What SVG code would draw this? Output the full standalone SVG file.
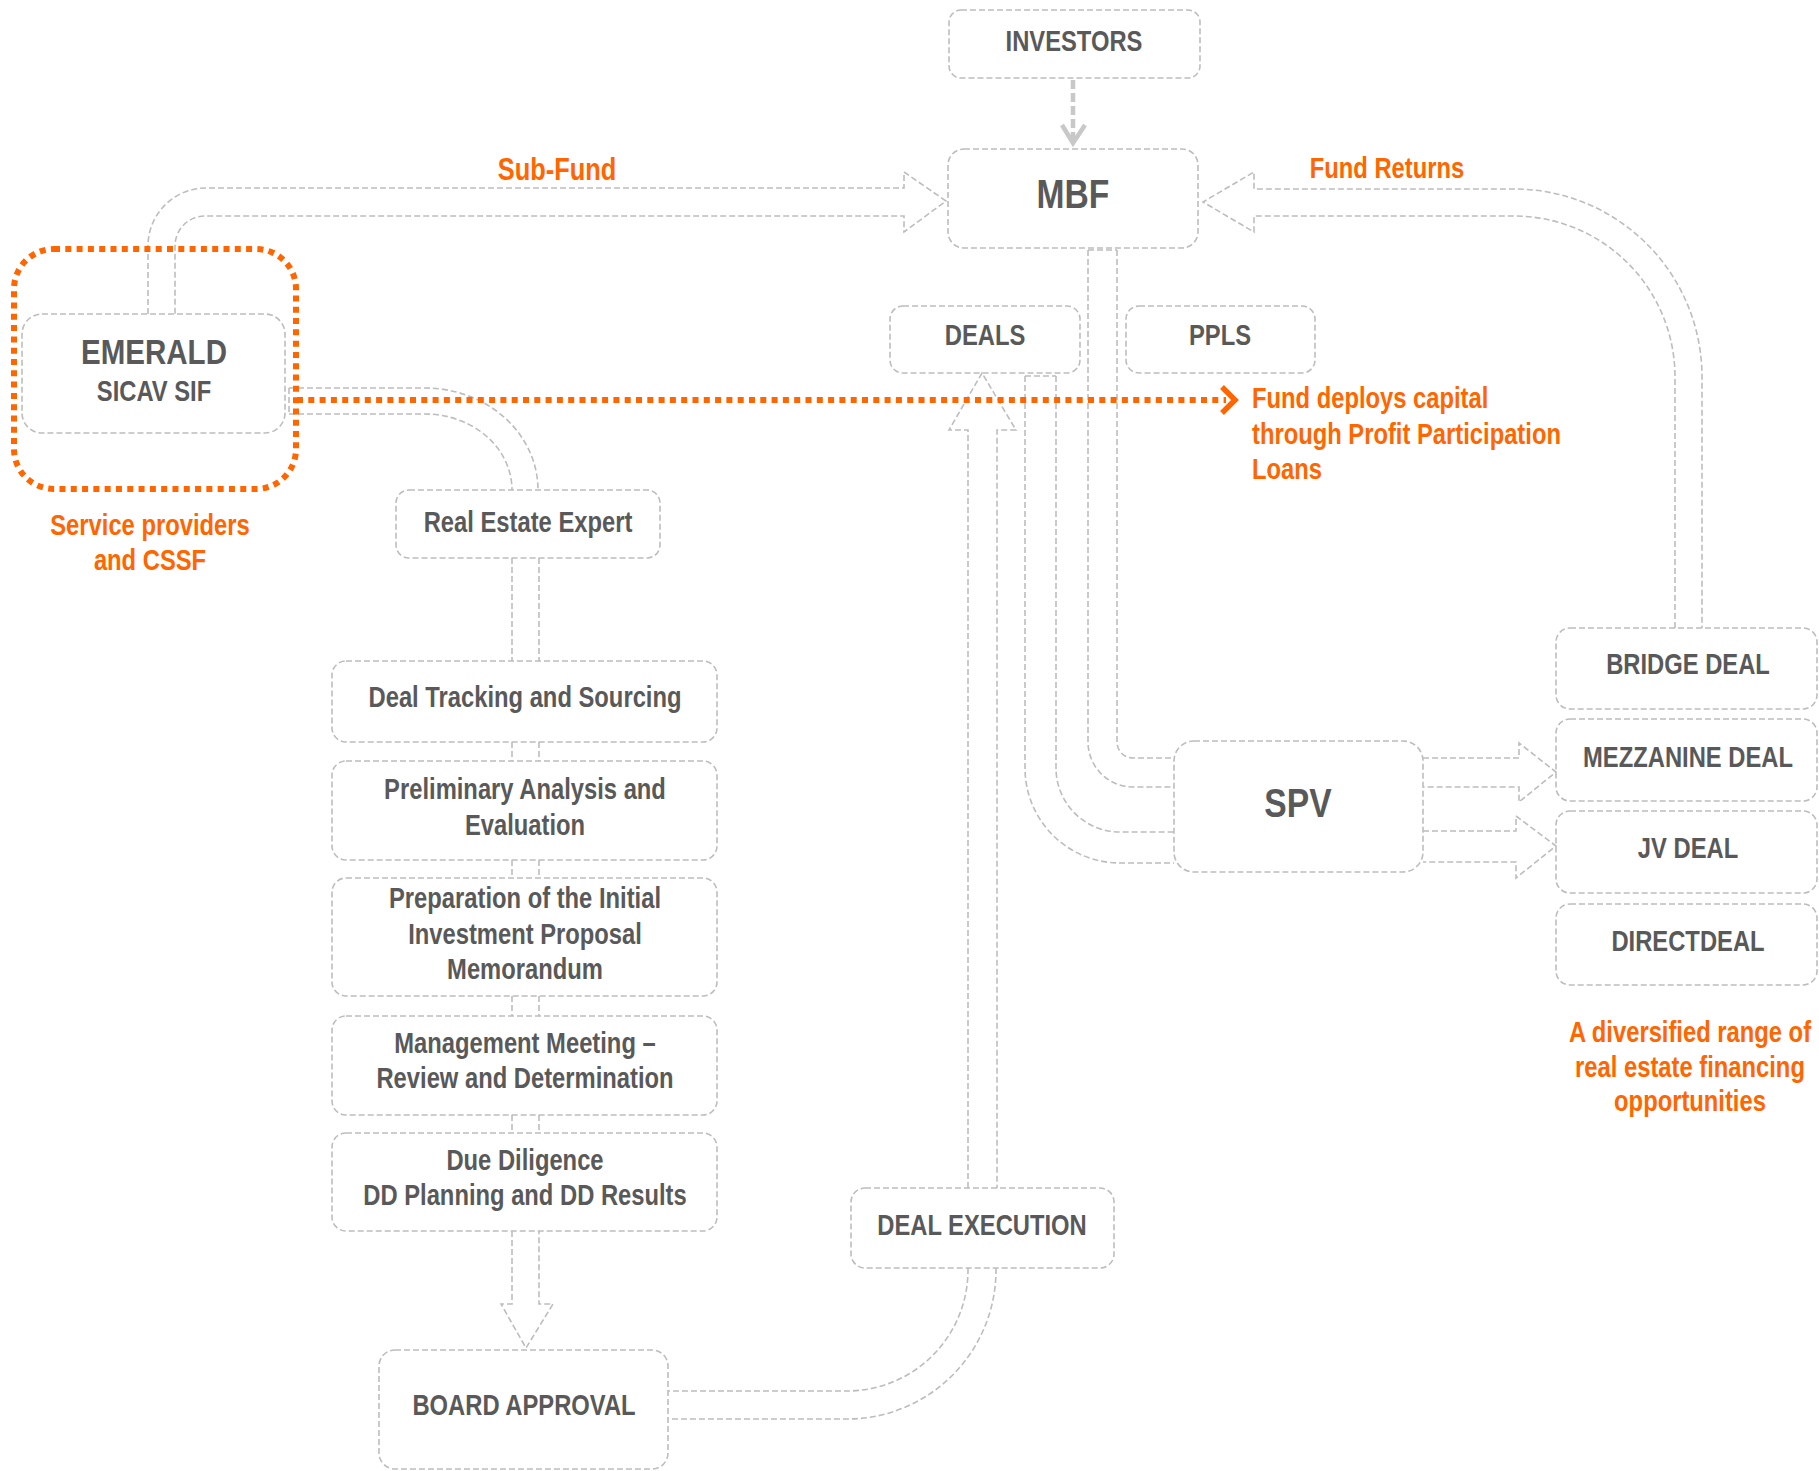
<svg xmlns="http://www.w3.org/2000/svg" width="1819" height="1471" viewBox="0 0 1819 1471">
<style>
.box{fill:none;stroke:#BDBDBD;stroke-width:1.6;stroke-dasharray:6 3}
.pipe{fill:none;stroke:#BDBDBD;stroke-width:1.6;stroke-dasharray:6 3}
.t{font-family:"Liberation Sans Narrow","Liberation Sans",Arial,sans-serif;font-weight:bold;fill:#595959;text-anchor:middle;font-size:29px}
.big{font-size:41px}
.o{font-family:"Liberation Sans Narrow","Liberation Sans",Arial,sans-serif;font-weight:bold;fill:#FF6600;font-size:29px}
.m{text-anchor:middle}
.dot{fill:none;stroke:#FF6600;stroke-width:6;stroke-dasharray:6 5.3}
</style>
<rect width="1819" height="1471" fill="#FFFFFF"/>
<g id="connectors">
  <path class="pipe" d="M148,314 V246 A58,58 0 0 1 206,188 H904 V172 L946,201 L904,232 V216 H205 A30,30 0 0 0 175,246 V314"/>
  <path class="pipe" d="M1675,628 V377 A161,161 0 0 0 1514,216 H1254 V232 L1203,202 L1254,172 V189 H1514 A188,188 0 0 1 1702,377 V628"/>
  <path class="pipe" d="M289,388 V414 M289,388 H425 A113,102 0 0 1 538,490 M289,414 H425 A87,76 0 0 1 512,490"/>
  <path class="pipe" d="M512,558 V661 M539,558 V661 M512,742 V761 M539,742 V761 M512,860 V878 M539,860 V878 M512,996 V1016 M539,996 V1016 M512,1115 V1133 M539,1115 V1133"/>
  <path class="pipe" d="M512,1231 V1304 H501 L526,1348 L553,1304 H539 V1231"/>
  <path class="pipe" d="M968,1268 V1270 A121,121 0 0 1 847,1391 H668 M996,1268 V1270 A149,149 0 0 1 847,1419 H668"/>
  <path class="pipe" d="M968,1188 V430 H949 L982,373 L1016,430 H997 V1188"/>
  <path class="pipe" d="M1025,376 H1056 M1025,376 V768 A95,95 0 0 0 1120,863 H1174 M1056,376 V768 A64,64 0 0 0 1120,832 H1174"/>
  <path class="pipe" d="M1088,250 H1117 M1088,250 V742 A45,45 0 0 0 1133,787 H1174 M1117,250 V742 A16,16 0 0 0 1133,758 H1174"/>
  <path class="pipe" d="M1423,758 H1519 V743 L1556,772 L1519,802 V787 H1423"/>
  <path class="pipe" d="M1423,831 H1516 V816 L1556,846 L1516,878 V862 H1423"/>
  <path d="M1073,80 V141" fill="none" stroke="#C8C8C8" stroke-width="4.5" stroke-dasharray="9 4"/>
  <path d="M1062,125 L1073,143 L1085,125" fill="none" stroke="#C8C8C8" stroke-width="4.5"/>
</g>
<g id="investors"><rect class="box" x="949" y="10" width="251" height="68" rx="12"/><text class="t" transform="translate(1074,51) scale(0.82,1)">INVESTORS</text></g>
<g id="mbf"><rect class="box" x="948" y="149" width="250" height="99" rx="16"/><text class="t big" transform="translate(1073,208) scale(0.82,1)">MBF</text></g>
<g id="emerald"><rect class="box" x="22" y="314" width="263" height="119" rx="20"/><text class="t" transform="translate(154,364) scale(0.82,1)" style="font-size:36px">EMERALD</text><text class="t" transform="translate(154,401) scale(0.82,1)">SICAV SIF</text></g>
<g id="deals"><rect class="box" x="890" y="306" width="190" height="67" rx="13"/><text class="t" transform="translate(985,345) scale(0.82,1)">DEALS</text></g>
<g id="ppls"><rect class="box" x="1126" y="306" width="189" height="67" rx="13"/><text class="t" transform="translate(1220,345) scale(0.82,1)">PPLS</text></g>
<g id="real-estate-expert"><rect class="box" x="396" y="490" width="264" height="68" rx="13"/><text class="t" transform="translate(528,532) scale(0.82,1)">Real Estate Expert</text></g>
<g id="deal-tracking"><rect class="box" x="332" y="661" width="385" height="81" rx="14"/><text class="t" transform="translate(525,707) scale(0.82,1)">Deal Tracking and Sourcing</text></g>
<g id="preliminary"><rect class="box" x="332" y="761" width="385" height="99" rx="14"/><text class="t" transform="translate(525,799) scale(0.82,1)">Preliminary Analysis and</text><text class="t" transform="translate(525,835) scale(0.82,1)">Evaluation</text></g>
<g id="preparation"><rect class="box" x="332" y="878" width="385" height="118" rx="14"/><text class="t" transform="translate(525,908) scale(0.82,1)">Preparation of the Initial</text><text class="t" transform="translate(525,944) scale(0.82,1)">Investment Proposal</text><text class="t" transform="translate(525,979) scale(0.82,1)">Memorandum</text></g>
<g id="management"><rect class="box" x="332" y="1016" width="385" height="99" rx="14"/><text class="t" transform="translate(525,1053) scale(0.82,1)">Management Meeting –</text><text class="t" transform="translate(525,1088) scale(0.82,1)">Review and Determination</text></g>
<g id="due-diligence"><rect class="box" x="332" y="1133" width="385" height="98" rx="14"/><text class="t" transform="translate(525,1170) scale(0.82,1)">Due Diligence</text><text class="t" transform="translate(525,1205) scale(0.82,1)">DD Planning and DD Results</text></g>
<g id="board-approval"><rect class="box" x="379" y="1350" width="289" height="119" rx="16"/><text class="t" transform="translate(524,1415) scale(0.82,1)">BOARD APPROVAL</text></g>
<g id="deal-execution"><rect class="box" x="851" y="1188" width="263" height="80" rx="14"/><text class="t" transform="translate(982,1235) scale(0.82,1)">DEAL EXECUTION</text></g>
<g id="spv"><rect class="box" x="1174" y="741" width="249" height="131" rx="20"/><text class="t big" transform="translate(1298,817) scale(0.82,1)">SPV</text></g>
<g id="bridge"><rect class="box" x="1556" y="628" width="261" height="81" rx="14"/><text class="t" transform="translate(1688,674) scale(0.82,1)">BRIDGE DEAL</text></g>
<g id="mezzanine"><rect class="box" x="1556" y="719" width="261" height="82" rx="14"/><text class="t" transform="translate(1688,767) scale(0.82,1)">MEZZANINE DEAL</text></g>
<g id="jv"><rect class="box" x="1556" y="811" width="261" height="82" rx="14"/><text class="t" transform="translate(1688,858) scale(0.82,1)">JV DEAL</text></g>
<g id="direct"><rect class="box" x="1556" y="904" width="261" height="81" rx="14"/><text class="t" transform="translate(1688,951) scale(0.82,1)">DIRECTDEAL</text></g>
<g id="orange">
  <rect class="dot" x="14" y="249" width="282" height="240" rx="40"/>
  <path class="dot" d="M297,400 H1226"/>
  <path d="M1222,387 L1235,400 L1222,413" fill="none" stroke="#FF6600" stroke-width="5.5"/>
  <text class="o m" transform="translate(557,180) scale(0.82,1)" style="font-size:31px">Sub-Fund</text>
  <text class="o m" transform="translate(1387,178) scale(0.82,1)">Fund Returns</text>
  <text class="o" transform="translate(1252,408) scale(0.82,1)">Fund deploys capital</text>
  <text class="o" transform="translate(1252,444) scale(0.82,1)">through Profit Participation</text>
  <text class="o" transform="translate(1252,479) scale(0.82,1)">Loans</text>
  <text class="o m" transform="translate(150,535) scale(0.82,1)">Service providers</text>
  <text class="o m" transform="translate(150,570) scale(0.82,1)">and CSSF</text>
  <text class="o m" transform="translate(1690,1042) scale(0.82,1)">A diversified range of</text>
  <text class="o m" transform="translate(1690,1077) scale(0.82,1)">real estate financing</text>
  <text class="o m" transform="translate(1690,1111) scale(0.82,1)">opportunities</text>
</g>
</svg>
